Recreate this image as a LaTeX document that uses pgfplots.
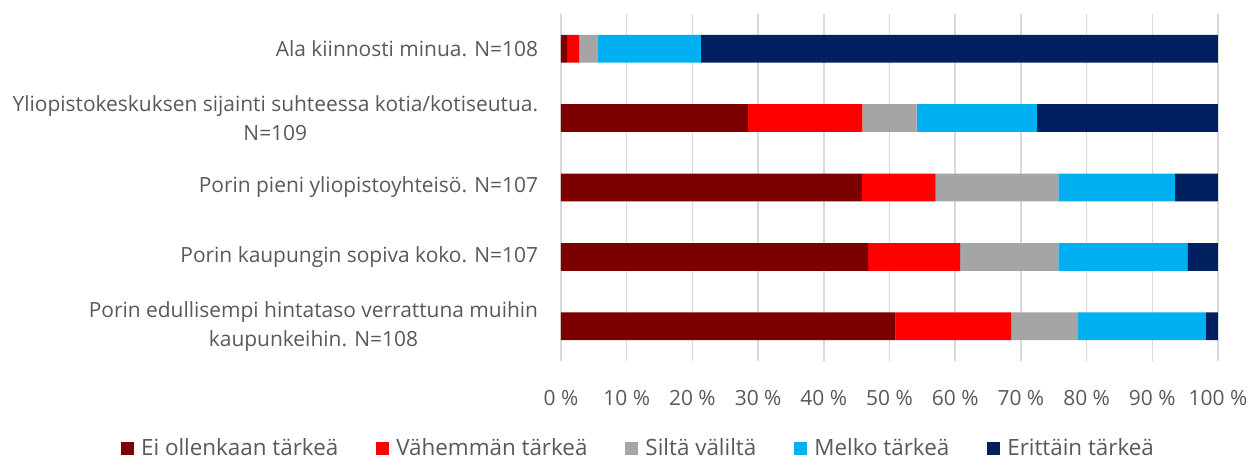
\documentclass[border=0pt]{standalone}
\usepackage{pgfplots}
\pgfplotsset{compat=1.18}
\usepackage{fontspec}
\setmainfont{Open Sans}
\definecolor{cEi}{HTML}{7B0000}
\definecolor{cVa}{HTML}{FF0000}
\definecolor{cSi}{HTML}{A5A5A5}
\definecolor{cMe}{HTML}{00B0F0}
\definecolor{cEr}{HTML}{002060}
\definecolor{txt}{HTML}{595959}
\definecolor{grd}{HTML}{D9D9D9}
\begin{document}
\begin{tikzpicture}
\useasboundingbox (-420.75pt,-75pt) rectangle (516.75pt,270.75pt);
\begin{axis}[
    at={(0,0)}, anchor=south west,
    scale only axis,
    width=492.75pt, height=260.25pt,
    xbar stacked,
    bar width=0.4,
    xmin=0, xmax=100,
    ymin=-0.5, ymax=4.5,
    y dir=reverse,
    xtick={0,10,...,100},
    xticklabels={0 \%,10 \%,20 \%,30 \%,40 \%,50 \%,60 \%,70 \%,80 \%,90 \%,100 \%},
    ytick={0,1,2,3,4},
    yticklabels={
        {Ala kiinnosti minua. N=108},
        {Yliopistokeskuksen sijainti suhteessa kotia/kotiseutua.\\N=109},
        {Porin pieni yliopistoyhteisö. N=107},
        {Porin kaupungin sopiva koko. N=107},
        {Porin edullisempi hintataso verrattuna muihin\\kaupunkeihin. N=108}},
    major tick length=0pt,
    axis line style={draw=none},
    xmajorgrids,
    grid style={grd, line width=1.1pt},
    tick label style={font=\fontsize{15.7}{21.5}\selectfont, text=txt},
    yticklabel style={align=center, inner sep=0pt, xshift=-17pt},
    xticklabel style={inner sep=0pt, yshift=-21.5pt},
    legend columns=5,
    legend style={at={(0.118,-0.251)}, anchor=center, draw=none,
        font=\fontsize{16.8}{20}\selectfont, text=txt,
        /tikz/every even column/.append style={column sep=27pt},
        nodes={inner sep=1.5pt}},
    legend image code/.code={\fill[#1] (0pt,-4.9pt) rectangle (9.75pt,4.9pt); \path (13.5pt,0pt);},
]
% shares in percent, top to bottom
\addplot[draw=none, fill=cEi] coordinates {(0.926,0) (28.440,1) (45.794,2) (46.729,3) (50.926,4)};
\addlegendentry{Ei ollenkaan tärkeä}
\addplot[draw=none, fill=cVa] coordinates {(1.852,0) (17.431,1) (11.215,2) (14.019,3) (17.593,4)};
\addlegendentry{Vähemmän tärkeä}
\addplot[draw=none, fill=cSi] coordinates {(2.778,0) (8.257,1) (18.692,2) (14.953,3) (10.185,4)};
\addlegendentry{Siltä väliltä}
\addplot[draw=none, fill=cMe] coordinates {(15.741,0) (18.349,1) (17.757,2) (19.626,3) (19.444,4)};
\addlegendentry{Melko tärkeä}
\addplot[draw=none, fill=cEr] coordinates {(78.704,0) (27.523,1) (6.542,2) (4.673,3) (1.852,4)};
\addlegendentry{Erittäin tärkeä}
\end{axis}
\end{tikzpicture}
\end{document}
